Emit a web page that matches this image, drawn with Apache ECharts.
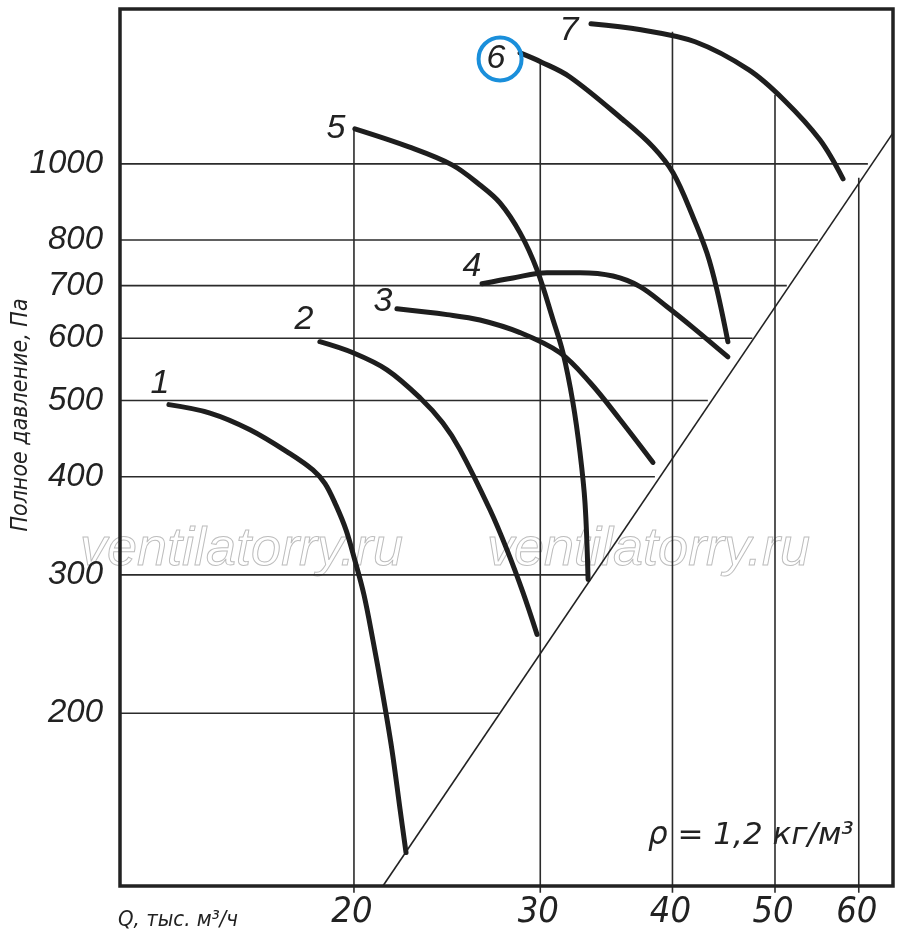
<!DOCTYPE html>
<html>
<head>
<meta charset="utf-8">
<script src="https://cdn.jsdelivr.net/npm/echarts@6/dist/echarts.min.js"></script>
<style>
html, body { margin: 0; padding: 0; background: #fff; }
#chart { width: 900px; height: 941px; }
</style>
</head>
<body>
<div id="chart"></div>
<script>
// Q, тыс. м3/ч  /  полное давление, Па  (обе оси логарифмические)
var curveNames = ['1', '2', '3', '4', '5', '6', '7'];
var curve1 = [[13.37,494],[14.62,482],[15.95,459],[17.40,428],[18.29,408],[18.78,392],[19.23,368],[19.66,342],[20.04,313],[20.44,283],[20.84,248],[21.26,214],[21.72,180],[22.11,151],[22.40,133]];
var curve2 = [[18.57,594],[19.96,575],[21.49,547],[23.09,504],[24.27,468],[25.19,433],[26.89,363],[27.90,323],[28.89,285],[29.79,252]];
var curve3 = [[21.96,654],[24.49,643],[26.31,633],[28.71,610],[31.32,575],[33.43,527],[35.68,473],[38.34,417]];
var curve4 = [[26.43,704],[28.27,716],[30.44,727],[32.71,727],[35.14,720],[37.27,698],[39.53,658],[41.83,619],[45.13,568]];
var curve5 = [[20.04,1108],[22.54,1051],[24.76,997],[26.31,940],[27.48,892],[28.71,817],[29.79,733],[30.85,633],[31.52,575],[32.21,497],[32.71,429],[33.07,370],[33.29,296]];
var curve6 = [[28.71,1384],[30.05,1348],[32.00,1290],[35.92,1138],[38.34,1051],[40.05,974],[41.83,856],[43.12,770],[44.07,691],[45.13,594]];
var curve7 = [[33.50,1507],[37.35,1481],[42.02,1430],[47.24,1317],[50.99,1206],[55.13,1073],[57.98,957]];
var curves = [curve1, curve2, curve3, curve4, curve5, curve6, curve7];

var xTicks = [20, 30, 40, 50, 60];
var yTicks = [200, 300, 400, 500, 600, 700, 800, 1000];
var hGridEndQ = [27.4, 33.4, 38.5, 43.2, 47.6, 51.3, 54.9, 61.2];   // where each pressure line stops
var vGridTopP = [1108, 1344, 1473, 1224, 960];                     // where each flow line stops
var systemLine = [[21.3, 120.6], [64.64, 1095]];

var X_MIN = 12.02, X_MAX = 64.64, Y_MIN = 120.6, Y_MAX = 1574;
var TICK_Q = 11.8, TICK_P = 118.2;

var ink = '#222';
var condensed = '"DejaVu Sans Condensed", "Liberation Sans", sans-serif';
var labelOffsets = [[-9,-21],[-16,-22],[-14,-7],[-10,-17],[-19,0],[-24,6],[-22,7]];

var series = [];
yTicks.forEach(function (p, i) {
    series.push({
        type: 'line', silent: true, clip: false, symbol: 'none', z: 1,
        lineStyle: { color: '#2b2b2b', width: 1.6 },
        data: [[TICK_Q, p], [hGridEndQ[i], p]]
    });
});
xTicks.forEach(function (q, i) {
    series.push({
        type: 'line', silent: true, clip: false, symbol: 'none', z: 1,
        lineStyle: { color: '#2b2b2b', width: 1.6 },
        data: [[q, TICK_P], [q, vGridTopP[i]]]
    });
});
series.push({
    type: 'line', silent: true, symbol: 'none', z: 1,
    lineStyle: { color: ink, width: 1.6 },
    data: systemLine
});
curves.forEach(function (c, i) {
    series.push({
        type: 'line', name: curveNames[i], symbol: 'none', smooth: 0.35, z: 3,
        lineStyle: { color: '#1e1e1e', width: 5, cap: 'round' },
        data: c
    });
});
// номера кривых
series.push({
    type: 'scatter', symbolSize: 0, clip: false, z: 4, silent: true,
    itemStyle: { opacity: 1 },
    label: {
        show: true, position: 'inside', color: ink, opacity: 1,
        fontFamily: 'Liberation Sans', fontStyle: 'italic', fontSize: 34
    },
    data: curves.map(function (c, i) {
        return { value: c[0], label: { offset: labelOffsets[i], formatter: curveNames[i] } };
    })
});
// синий кружок вокруг «6»
series.push({
    type: 'scatter', symbol: 'circle', symbolSize: 43, symbolOffset: [-20, 6], z: 5, silent: true,
    itemStyle: { color: 'rgba(0,0,0,0)', borderColor: '#1a8fdb', borderWidth: 4, opacity: 1 },
    data: [curve6[0]]
});
// подписи оси Q
series.push({
    type: 'scatter', symbolSize: 0, clip: false, silent: true,
    itemStyle: { opacity: 1 },
    label: {
        show: true, position: 'inside', offset: [-2, 27], color: ink, opacity: 1,
        fontFamily: condensed, fontStyle: 'italic', fontSize: 36,
        formatter: function (p) { return p.value[0]; }
    },
    data: xTicks.map(function (q) { return [q, Y_MIN]; })
});
// подписи оси давления
series.push({
    type: 'scatter', symbolSize: 0, clip: false, silent: true,
    itemStyle: { opacity: 1 },
    label: {
        show: true, position: 'left', distance: 17, color: ink, opacity: 1,
        fontFamily: 'Liberation Sans', fontStyle: 'italic', fontSize: 33,
        formatter: function (p) { return p.value[1]; }
    },
    data: yTicks.map(function (p) { return [X_MIN, p]; })
});

var watermark = {
    text: 'ventilatorry.ru', fill: 'rgba(255,255,255,0)', stroke: '#bdbdbd', lineWidth: 1,
    font: 'italic 54px "Liberation Sans"', verticalAlign: 'middle'
};

var option = {
    animation: false,
    backgroundColor: '#fff',
    grid: { left: 120, right: 7, top: 9, bottom: 55, show: true, borderColor: ink, borderWidth: 3.5, backgroundColor: 'transparent', z: 2 },
    xAxis: {
        type: 'log', logBase: 10, min: X_MIN, max: X_MAX,
        axisLine: { show: false }, axisTick: { show: false }, axisLabel: { show: false }, splitLine: { show: false }
    },
    yAxis: {
        type: 'log', logBase: 10, min: Y_MIN, max: Y_MAX,
        axisLine: { show: false }, axisTick: { show: false }, axisLabel: { show: false }, splitLine: { show: false }
    },
    graphic: [
        { type: 'text', x: 80, y: 550, z: 0, style: watermark },
        { type: 'text', x: 487, y: 550, z: 0, style: watermark },
        {
            type: 'text', x: 21, y: 415, rotation: Math.PI / 2,
            style: { text: 'Полное давление, Па', align: 'center', verticalAlign: 'middle', fill: ink,
                     font: 'italic 23px ' + condensed }
        },
        {
            type: 'text', x: 118, y: 920,
            style: { text: 'Q, тыс. м³/ч', verticalAlign: 'middle', fill: ink,
                     font: 'italic 22px ' + condensed }
        },
        {
            type: 'text', x: 648, y: 836,
            style: { text: 'ρ = 1,2 кг/м³', verticalAlign: 'middle', fill: ink,
                     font: 'italic 31px "DejaVu Sans"' }
        }
    ],
    series: series
};

var chart = echarts.init(document.getElementById('chart'));
chart.setOption(option);
</script>
</body>
</html>
